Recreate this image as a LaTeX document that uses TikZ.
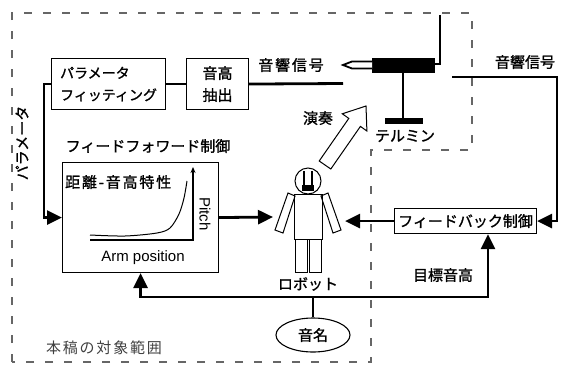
\documentclass[tikz,border=0pt]{standalone}
\usepackage{fontspec}
\setmainfont{Liberation Sans}
\newfontfamily\jp[FakeBold=1.2]{Noto Sans CJK JP}
\newfontfamily\jpwide[LetterSpace=12,FakeBold=1.2]{Noto Sans CJK JP}
\newfontfamily\jpthin[LetterSpace=12]{Noto Sans CJK JP}
\usetikzlibrary{arrows.meta,shapes.geometric}

\tikzset{
	conn/.style={line width=2.8pt},
	bigtip/.style={-{Triangle[length=15pt,width=14pt]}},
	box/.style={draw, line width=1.1pt, inner sep=0pt, font=\jp\fontsize{15}{22}\selectfont},
	lbl/.style={inner sep=0pt, font=\jp\fontsize{15}{17}\selectfont},
	areaedge/.style={line width=1.6pt, color=black!60, dash pattern=on 8pt off 11pt},
}

\begin{document}
\begin{tikzpicture}[x=1pt, y=-1pt]
		%%%%% START %%%%%
		\useasboundingbox (0,0) rectangle (561,367);
		
		% scope of this work (dashed)
		\draw[areaedge] (12,362) -- (12,13) -- (472,13) -- (472,150) -- (371,150) -- (371,362) -- cycle;
		\node[lbl, text=black!75, font=\jpthin\fontsize{15}{17}\selectfont] (scopel) at (104,348) {本稿の対象範囲};
		
		% parameter fitting and pitch extraction
		\node[box, minimum width=114pt, minimum height=51pt, anchor=north west, align=left,
			font=\jp\fontsize{14}{22}\selectfont] (param) at (51,58) {パラメータ\\フィッティング};
		\node[box, minimum width=62pt, minimum height=51pt, anchor=north west, align=center] (pext) at (186,58) {音高\\抽出};
		\draw[conn] (param.east) -- (pext.west);
		\coordinate (sigout) at (343,83.5);
		\draw[conn] (pext.east) -- (sigout);
		\node[lbl, font=\jpwide\fontsize{15}{17}\selectfont] (sigl) at (291,65) {音響信号};
		
		% theremin
		\fill (372,58) rectangle (435,73);
		\draw[line width=1.8pt, fill=white] (372,61.5) -- (352,61.5) -- (343,65) -- (352,68.5) -- (372,68.5);
		\draw[line width=2pt] (435,64) -- (440,64) -- (440,15);
		\draw[line width=2.5pt] (403,73) -- (403,120);
		\fill (385,118) rectangle (423,124);
		\node[lbl] (thm) at (405,136) {テルミン};
		
		% feed-forward block
		\node[box, minimum width=156pt, minimum height=110pt, anchor=north west] (ff) at (62,162) {};
		\node[lbl] (ffl) at (148,146) {フィードフォワード制御};
		\node[lbl, anchor=west, font=\jpwide\fontsize{15}{17}\selectfont] (curvel) at (65,182) {距離-音高特性};
		\draw[line width=1.2pt, -{Stealth[length=6pt,width=5pt]}] (90,240) -- (193,240) -- (193,167);
		\draw[line width=1pt] plot[smooth] coordinates {(90,235) (125,236) (157,233) (170,228) (179,214) (184,198) (187,181)};
		\node[rotate=-90, font=\fontsize{15}{17}\selectfont] (pitch) at (205,214) {Pitch};
		\node[font=\fontsize{15}{17}\selectfont] (armpos) at (143,258) {Arm position};
		
		\draw[conn, bigtip] (param.west) -- ++(-7,0) |- (ff.west);
		\node[lbl, rotate=90] (paraml) at (22,143) {パラメータ};
		
		% robot
		\coordinate (robotL) at (273,217);
		\coordinate (robotR) at (345,220);
		\draw[line width=1pt] (308,181) circle (13pt);
		\draw[line width=2pt] (304,171) -- (304,186) (312,171) -- (312,186);
		\fill (302,185) rectangle (314,191);
		\draw[line width=1pt] (294,194) rectangle (322,239);
		\draw[line width=1pt] (288,193) -- (295,196) -- (283,233) -- (275,230) -- cycle;
		\draw[line width=1pt] (328,193) -- (321,196) -- (333,233) -- (341,230) -- cycle;
		\draw[line width=1pt] (295,239) rectangle (307,272);
		\draw[line width=1pt] (309,239) rectangle (321,272);
		\node[lbl] (robotl) at (308,284) {ロボット};
		\draw[conn, bigtip] (ff.east) -- (robotL);
		
		% playing arrow
		\draw[line width=1pt, fill=white] (319.2,161) -- (348.8,118.4) -- (342.3,113.8) -- (366,106)
			-- (366.9,131) -- (360.4,126.4) -- (330.8,169) -- cycle;
		\node[lbl] (play) at (318,118) {演奏};
		
		% feedback block
		\node[box, minimum width=142pt, minimum height=25pt, anchor=north west] (fb) at (394,208) {フィードバック制御};
		\draw[conn, bigtip] (fb.west) -- (fb.west -| robotR);
		\coordinate (sigin) at (452,77);
		\node[lbl] (sigr) at (525,62) {音響信号};
		\draw[conn, bigtip] (sigin) -- ++(105,0) |- (fb.east);
		
		% note name and target pitch
		\node[draw, ellipse, line width=1.1pt, minimum width=74pt, minimum height=34pt, lbl] (onmei) at (313,335) {音名};
		\coordinate (bus) at (313,297);
		\draw[conn] (onmei.north) -- (bus);
		\draw[conn, bigtip] (bus) -| (ff.south);
		\draw[conn, bigtip] (bus) -- (488,297) -- (488,297 |- fb.south);
		\node[lbl] (target) at (443,275) {目標音高};
		
		%%%%% END %%%%%
	\end{tikzpicture}
\end{document}
